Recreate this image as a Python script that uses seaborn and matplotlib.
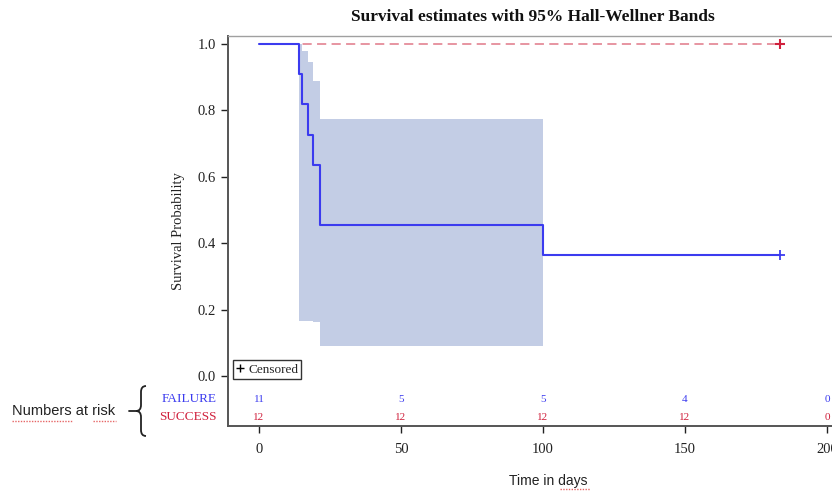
import numpy as np
import pandas as pd
import seaborn as sns
import matplotlib.pyplot as plt
from matplotlib.lines import Line2D
from matplotlib.path import Path
import matplotlib.patches as mpatches

# Kaplan-Meier estimates
fail_time = [0, 14.1, 15.3, 17.4, 19.1, 21.5, 100.0, 183.5]
fail_surv = [1.0, 0.909, 0.818, 0.727, 0.636, 0.455, 0.364, 0.364]
success_time = [0, 183.5]
success_surv = [1.0, 1.0]

# Hall-Wellner band for FAILURE
band_time = [14.1, 15.3, 17.4, 19.1, 21.5, 100.0]
band_upper = [1.0, 0.98, 0.945, 0.89, 0.775, 0.775]
band_lower = [0.167, 0.167, 0.167, 0.163, 0.09, 0.09]

# numbers at risk
risk_times = [0, 50, 100, 150, 200]
risk_failure = [11, 5, 5, 4, 0]
risk_success = [12, 12, 12, 12, 0]

x_ticks = [0, 50, 100, 150, 200]
y_ticks = [0.0, 0.2, 0.4, 0.6, 0.8, 1.0]

sns.set_style("ticks")
plt.rcParams['font.family'] = ['Liberation Serif', 'DejaVu Serif']

BLUE = "#3b3bef"
RED = "#d0203c"
BAND = "#c3cde5"

W, H = 832, 491
fig = plt.figure(figsize=(W / 100, H / 100), dpi=100)
ax = fig.add_axes([228 / W, 1 - 426 / H, (850 - 228) / W, (426 - 36) / H])


def px(x, y):
    return x / W, 1 - y / H


# confidence band
ax.fill_between(band_time, band_lower, band_upper, step='post', color=BAND, lw=0, zorder=1)

df_s = pd.DataFrame({"t": success_time, "s": success_surv})
df_f = pd.DataFrame({"t": fail_time, "s": fail_surv})
sns.lineplot(data=df_s, x="t", y="s", ax=ax, color="#e07888", lw=1.1,
             dashes=False, linestyle=(0, (6, 3.5)), drawstyle='steps-post',
             estimator=None, sort=False, zorder=2)
sns.lineplot(data=df_f, x="t", y="s", ax=ax, color=BLUE, lw=1.5,
             drawstyle='steps-post', estimator=None, sort=False, zorder=3)

# censored marks
ax.plot([success_time[-1]], [success_surv[-1]], marker='+', ms=7, mew=1.5, color=RED, ls='', zorder=4)
ax.plot([fail_time[-1]], [fail_surv[-1]], marker='+', ms=7, mew=1.3, color=BLUE, ls='', zorder=4)

# axes limits
ax.set_xlim((228 - 259) / 2.84, (850 - 259) / 2.84)
ax.set_ylim((376 - 426) / 332, (376 - 36) / 332)
ax.set_xticks(x_ticks)
ax.set_yticks(y_ticks)
ax.set_yticklabels([f"{v:.1f}" for v in y_ticks])
ax.tick_params(axis='both', labelsize=10.5, colors='#222222', length=5, width=1.0, direction='out')
ax.tick_params(axis='x', pad=7)
ax.set_xlabel("")
ax.set_ylabel("Survival Probability", fontsize=10.5, color='#222222', labelpad=9)
for side in ['left', 'bottom']:
    ax.spines[side].set_color('#555555')
    ax.spines[side].set_linewidth(1.4)
ax.spines['top'].set_color('#a0a0a0')
ax.spines['top'].set_linewidth(1.0)
ax.spines['right'].set_visible(False)

# numbers at risk inside the axes
y_fail = (376 - 399) / 332
y_succ = (376 - 417) / 332
for t, nf, ns in zip(risk_times, risk_failure, risk_success):
    ax.text(t, y_fail, str(nf), ha='center', va='center', fontsize=8, color=BLUE)
    ax.text(t, y_succ, str(ns), ha='center', va='center', fontsize=8, color=RED)
ax.text(-15, y_fail, "FAILURE", ha='right', va='center', fontsize=9.5, color=BLUE, clip_on=False)
ax.text(-15, y_succ, "SUCCESS", ha='right', va='center', fontsize=9.5, color=RED, clip_on=False)

# censored legend
leg = ax.legend(handles=[Line2D([], [], marker='+', ls='', color='black', ms=6, mew=1.0)],
                labels=["Censored"], loc='lower left',
                bbox_to_anchor=((233 - 228) / 622, (426 - 379) / 390),
                borderaxespad=0, fancybox=False, edgecolor='#333333', framealpha=1,
                handlelength=0.5, handletextpad=0.4, borderpad=0.25, fontsize=9.5)
leg.get_frame().set_linewidth(1.0)

# title
fig.text(*px(533, 17), "Survival estimates with 95% Hall-Wellner Bands",
         ha='center', va='center', fontsize=12.5, fontweight='bold', color='#111111')

# x label and at-risk annotation (added as plain text)
fig.text(*px(548, 481), "Time in days", ha='center', va='center', fontsize=10,
         family=['Liberation Sans', 'DejaVu Sans'], color='#222222')
fig.text(*px(12, 411), "Numbers at risk", ha='left', va='center', fontsize=10.5,
         family=['Liberation Sans', 'DejaVu Sans'], color='#222222')

# brace and dash
verts = [px(146, 386), px(141, 386), px(141, 392), px(141, 405), px(141, 411), px(136, 411),
         px(141, 411), px(141, 417), px(141, 430), px(141, 436), px(146, 436)]
codes = [Path.MOVETO, Path.CURVE3, Path.CURVE3, Path.LINETO, Path.CURVE3, Path.CURVE3,
         Path.CURVE3, Path.CURVE3, Path.LINETO, Path.CURVE3, Path.CURVE3]
fig.add_artist(mpatches.PathPatch(Path(verts, codes), fill=False, lw=1.3,
                                  edgecolor='#222222', transform=fig.transFigure))
fig.add_artist(Line2D([px(129, 0)[0], px(137, 0)[0]], [px(0, 411)[1]] * 2,
                      lw=1.3, color='#222222', transform=fig.transFigure))

# spell-check underlines
for x0, x1, y in [(12, 72, 421), (93, 116, 421), (560, 590, 489)]:
    fig.add_artist(Line2D([x0 / W, x1 / W], [1 - y / H] * 2, lw=1.0, ls=(0, (1, 1)),
                          color='#e04040', alpha=0.8, transform=fig.transFigure))

fig.savefig("out.png", dpi=100)
